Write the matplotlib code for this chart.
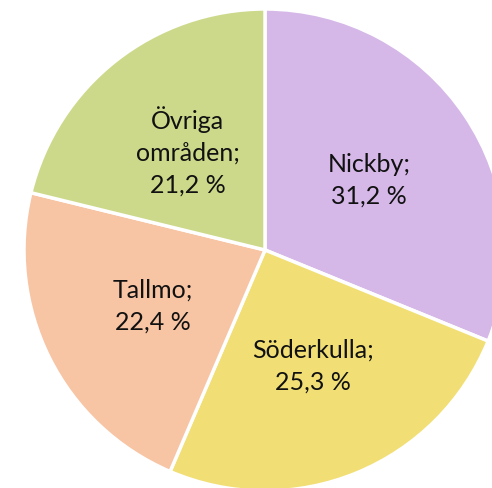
import numpy as np
import matplotlib.pyplot as plt

areas = ['Nickby', 'Söderkulla', 'Tallmo', 'Övriga\nområden']
shares = [31.2, 25.3, 22.4, 21.2]
colors = ['#D5B8E8', '#F1DF76', '#F7C4A4', '#CDD98A']

labels = [f'{a};\n{str(v).replace(".", ",")} %' for a, v in zip(areas, shares)]

fig = plt.figure(figsize=(4.92, 4.88), dpi=100)
ax = fig.add_axes([0, 0, 1, 1])

R = 241.0
cx, cy = 265.0, 250.0

wedges, texts = ax.pie(shares, labels=labels, colors=colors, startangle=90,
                       counterclock=False, radius=1, labeldistance=0.52,
                       wedgeprops=dict(edgecolor='white', linewidth=2.5),
                       textprops=dict(fontsize=18, family='Lato', color='#111111',
                                      linespacing=1.45))
for t in texts:
    t.set_ha('center')
    t.set_va('center')

ax.set_xlim(-cx / R, (492 - cx) / R)
ax.set_ylim(-(488 - cy) / R, cy / R)
ax.set_aspect('auto')
ax.axis('off')

fig.savefig('out.png', dpi=100)
